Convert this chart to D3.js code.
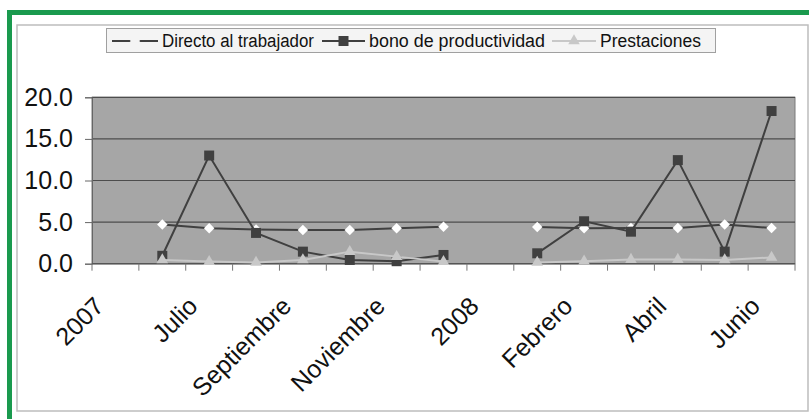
<!DOCTYPE html>
<html>
<head>
<meta charset="utf-8">
<script src="https://cdn.jsdelivr.net/npm/d3@7"></script>
<style>
  body { margin: 0; background: #fff; }
  svg { display: block; font-family: "Liberation Sans", Arial, sans-serif; }
</style>
</head>
<body>
<div id="chart"></div>
<script>
const categories = [
  "2007", "Junio", "Julio", "Agosto", "Septiembre", "Octubre", "Noviembre",
  "Diciembre", "2008", "Enero", "Febrero", "Marzo", "Abril", "Mayo", "Junio",
];
const directo = [null, 4.7, 4.25, 4.1, 4.05, 4.05, 4.25, 4.45, null, 4.4, 4.25, 4.3, 4.3, 4.7, 4.3];
const bono = [null, 0.95, 13.0, 3.7, 1.45, 0.45, 0.3, 1.05, null, 1.25, 5.1, 3.85, 12.45, 1.45, 18.35];
const prestaciones = [null, 0.45, 0.25, 0.15, 0.45, 1.45, 0.85, 0.25, null, 0.15, 0.3, 0.5, 0.5, 0.45, 0.75];
const yTicks = [0, 5, 10, 15, 20];
const seriesNames = ["Directo al trabajador", "bono de productividad", "Prestaciones"];

const width = 809;
const height = 419;
const plot = { left: 92, right: 795, top: 97.3, bottom: 263.7 };

const svg = d3
  .select("#chart")
  .append("svg")
  .attr("width", width)
  .attr("height", height);

// green frame and chart border
svg
  .append("rect")
  .attr("x", 9.5)
  .attr("y", 12.5)
  .attr("width", 830)
  .attr("height", 440)
  .attr("fill", "none")
  .attr("stroke", "#1a9a4e")
  .attr("stroke-width", 5);

svg
  .append("rect")
  .attr("x", 17)
  .attr("y", 25)
  .attr("width", 791)
  .attr("height", 386)
  .attr("fill", "#fff")
  .attr("stroke", "#bdbdbd")
  .attr("stroke-width", 1.5);

const xScale = d3
  .scaleBand()
  .domain(d3.range(categories.length))
  .range([plot.left, plot.right]);

const yScale = d3.scaleLinear().domain([0, 20]).range([plot.bottom, plot.top]);
const cx = (i) => xScale(i) + xScale.bandwidth() / 2;

svg
  .append("rect")
  .attr("x", plot.left)
  .attr("y", plot.top)
  .attr("width", plot.right - plot.left)
  .attr("height", plot.bottom - plot.top)
  .attr("fill", "#a6a6a6")
  .attr("stroke", "#7a7a7a")
  .attr("stroke-width", 1);

svg
  .append("g")
  .selectAll("line")
  .data(yTicks.slice(1))
  .enter()
  .append("line")
  .attr("x1", plot.left)
  .attr("x2", plot.right)
  .attr("y1", (d) => yScale(d))
  .attr("y2", (d) => yScale(d))
  .attr("stroke", "#4d4d4d")
  .attr("stroke-width", 1.2);

const yAxis = d3
  .axisLeft(yScale)
  .tickValues(yTicks)
  .tickSize(7)
  .tickPadding(12)
  .tickFormat(d3.format(".1f"));

const yAxisG = svg
  .append("g")
  .attr("transform", `translate(${plot.left}, 0)`)
  .call(yAxis);
yAxisG.select(".domain").attr("stroke", "#666");
yAxisG.selectAll(".tick line").attr("stroke", "#666");
yAxisG
  .selectAll("text")
  .attr("font-size", 25)
  .attr("font-family", "'Liberation Sans', Arial, sans-serif")
  .attr("fill", "#111");

// x axis: ticks on category boundaries
const xBounds = d3.range(categories.length + 1).map((i) => plot.left + i * xScale.bandwidth());
svg
  .append("line")
  .attr("x1", plot.left)
  .attr("x2", plot.right)
  .attr("y1", plot.bottom)
  .attr("y2", plot.bottom)
  .attr("stroke", "#555")
  .attr("stroke-width", 1.5);

svg
  .append("g")
  .selectAll("line")
  .data(xBounds)
  .enter()
  .append("line")
  .attr("x1", (d) => d)
  .attr("x2", (d) => d)
  .attr("y1", plot.bottom)
  .attr("y2", plot.bottom + 7)
  .attr("stroke", "#777");

svg
  .append("g")
  .selectAll("text")
  .data(categories.map((c, i) => ({ c, i })).filter((d) => d.i % 2 === 0))
  .enter()
  .append("text")
  .attr("text-anchor", "end")
  .attr("font-size", 25)
  .attr("fill", "#111")
  .attr("transform", (d) => `translate(${cx(d.i) - 10}, ${plot.bottom + 44}) rotate(-45)`)
  .text((d) => d.c);

// series
const line = d3
  .line()
  .defined((d) => d.v !== null)
  .x((d) => cx(d.i))
  .y((d) => yScale(d.v));

const toPoints = (arr) => arr.map((v, i) => ({ v, i }));

const series = [
  { name: seriesNames[0], values: directo, stroke: "#404040", symbol: d3.symbolDiamond2, fill: "#fff", size: 70 },
  { name: seriesNames[1], values: bono, stroke: "#404040", symbol: d3.symbolSquare, fill: "#404040", size: 100 },
  { name: seriesNames[2], values: prestaciones, stroke: "#c8c8c8", symbol: d3.symbolTriangle, fill: "#c8c8c8", size: 58 },
];

series.forEach((s) => {
  const pts = toPoints(s.values);
  const g = svg.append("g");
  g.append("path")
    .datum(pts)
    .attr("d", line)
    .attr("fill", "none")
    .attr("stroke", s.stroke)
    .attr("stroke-width", 2);
  g.selectAll("path.marker")
    .data(pts.filter((d) => d.v !== null))
    .enter()
    .append("path")
    .attr("class", "marker")
    .attr("d", d3.symbol().type(s.symbol).size(s.size))
    .attr("transform", (d) => `translate(${cx(d.i)}, ${yScale(d.v)})`)
    .attr("fill", s.fill)
    .attr("stroke", "none");
});

// legend
const legend = svg.append("g");
legend
  .append("rect")
  .attr("x", 106.5)
  .attr("y", 28.5)
  .attr("width", 609)
  .attr("height", 24)
  .attr("fill", "#f4f4f4")
  .attr("stroke", "#a0a0a0");

const legendItems = [
  { x: 112, textX: 162, w: 152 },
  { x: 322, textX: 369, w: 176 },
  { x: 552, textX: 600, w: 101 },
];

legendItems.forEach((item, k) => {
  const s = series[k];
  const y = 41;
  legend
    .append("line")
    .attr("x1", item.x)
    .attr("x2", item.textX - 4)
    .attr("y1", y)
    .attr("y2", y)
    .attr("stroke", s.stroke)
    .attr("stroke-width", 2);
  legend
    .append("path")
    .attr("d", d3.symbol().type(s.symbol).size(s.size))
    .attr("transform", `translate(${(item.x + item.textX - 4) / 2}, ${y})`)
    .attr("fill", k === 0 ? "#f4f4f4" : s.fill);
  legend
    .append("text")
    .attr("x", item.textX)
    .attr("y", y + 6)
    .attr("font-size", 18)
    .attr("font-family", "'Liberation Sans Narrow', 'Liberation Sans', Arial, sans-serif")
    .attr("textLength", item.w)
    .attr("lengthAdjust", "spacingAndGlyphs")
    .attr("fill", "#111")
    .text(s.name);
});
</script>
</body>
</html>
